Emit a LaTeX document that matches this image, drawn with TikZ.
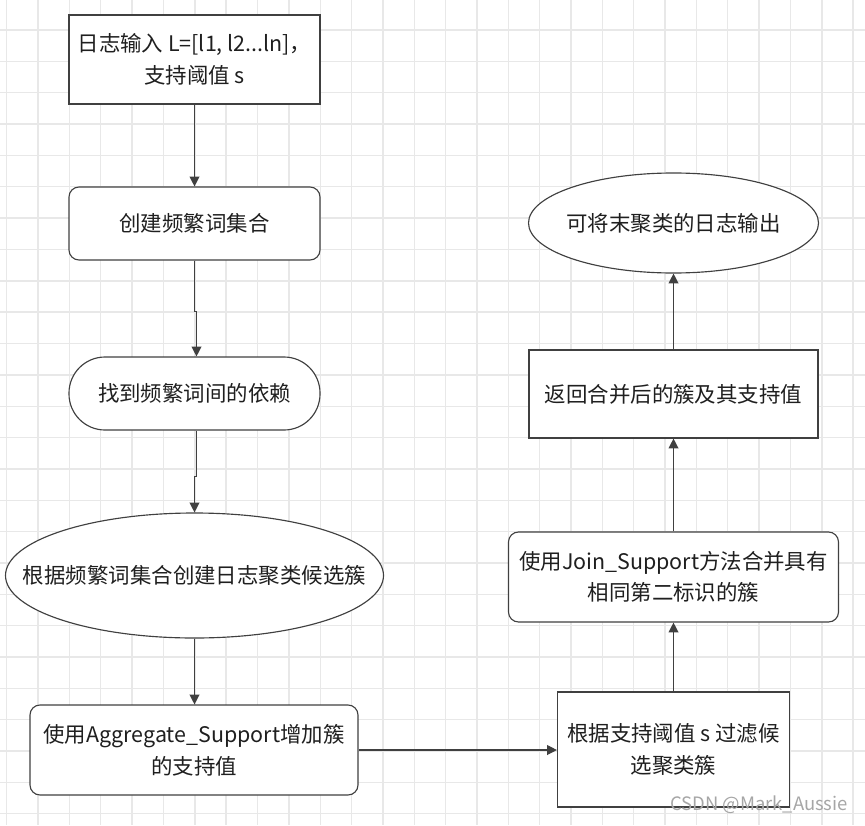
\documentclass[tikz,border=0pt]{standalone}
\usepackage{fontspec}
\setmainfont{Noto Sans CJK SC}
\usetikzlibrary{arrows.meta,shapes.geometric}
\definecolor{edgegray}{HTML}{404040}
\definecolor{inkgray}{HTML}{1F1F1F}
\definecolor{gridgray}{HTML}{E8E8E8}

\begin{document}
\begin{tikzpicture}[
  base/.style={draw=edgegray, line width=0.65pt, fill=white, align=center, inner sep=0pt,
    text=inkgray, font=\fontsize{12.2}{18}\selectfont},
  iobox/.style={base},
  roundbox/.style={base, rounded corners=0.2cm},
  pillbox/.style={base, rounded corners=0.72cm},
  ovalbox/.style={base, ellipse},
  arrow/.style={-{Triangle[length=5.6pt,width=5.6pt]}, line width=0.7pt, draw=edgegray},
  gridline/.style={gridgray, line width=0.8pt}
]

\useasboundingbox (0,0) rectangle (17.3,16.5);

% background grid
\foreach \i in {0,...,27}
  \draw[gridline] ({0.134+\i*0.627},0) -- ++(0,16.5);
\foreach \k in {0,...,25}
  \draw[gridline] (0,{15.9-\k*0.627}) -- ++(17.3,0);

% left column
\node[iobox, minimum width=5.02cm, minimum height=1.78cm] (input) at (3.89,15.31) {日志输入 L=[l1, l2...ln]，\\支持阈值 s};
\node[roundbox, minimum width=5.02cm, minimum height=1.46cm] (freq) at (3.89,12.03) {创建频繁词集合};
\node[pillbox, minimum width=5.02cm, minimum height=1.46cm] (dep) at (3.89,8.63) {找到频繁词间的依赖};
\node[ovalbox, minimum width=7.56cm, minimum height=2.5cm] (cand) at (3.89,4.99) {\makebox[0pt]{根据频繁词集合创建日志聚类候选簇}};
\node[roundbox, minimum width=6.56cm, minimum height=1.8cm] (agg) at (3.88,1.5) {使用Aggregate\_Support增加簇\\的支持值};

% right column
\node[iobox, minimum width=4.64cm, minimum height=2.3cm] (filt) at (13.47,1.51) {根据支持阈值 s 过滤候\\选聚类簇};
\node[roundbox, minimum width=6.6cm, minimum height=1.8cm] (join) at (13.47,4.96) {使用Join\_Support方法合并具有\\相同第二标识的簇};
\node[iobox, minimum width=5.78cm, minimum height=1.76cm] (ret) at (13.47,8.62) {返回合并后的簇及其支持值};
\node[ovalbox, minimum width=5.8cm, minimum height=2cm] (out) at (13.47,12.04) {\makebox[0pt]{可将末聚类的日志输出}};

% bends
\coordinate (j1) at (3.93,10.27);
\coordinate (j2) at (3.89,6.97);

% arrows
\draw[arrow] (input.south) -- (freq.north);
\draw[arrow] (freq.south) |- (j1) -- (j1 |- dep.north);
\draw[arrow] (j1 |- dep.south) |- (j2) -- (j2 |- cand.north);
\draw[arrow] (cand.south) -- (cand.south |- agg.north);
\draw[arrow] (agg.east) -- (agg.east -| filt.west);
\draw[arrow] (filt.north) -- (join.south);
\draw[arrow] (join.north) -- (ret.south);
\draw[arrow] (ret.north) -- (out.south);

% watermark
\node[text=black!35, font=\fontsize{10.5}{12}\selectfont, inner sep=0pt] (mark) at (15.18,0.4) {CSDN @Mark\_Aussie};

\end{tikzpicture}
\end{document}
